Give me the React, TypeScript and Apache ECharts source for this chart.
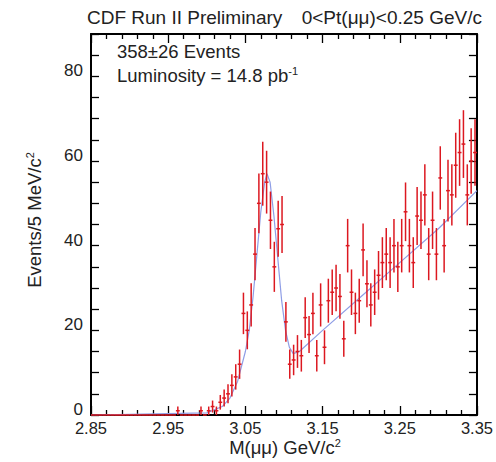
import React, { useEffect, useRef } from "react";
import * as echarts from "echarts";

const massMin = 2.85;
const massMax = 3.35;
const binWidth = 0.005;
const xTickStep = 0.1;
const yMax = 90;

// Events per 5 MeV/c^2 bin, from 2.85 to 3.35 GeV/c^2 (100 bins)
const counts = [
  0, 0, 0, 0, 0, 0, 0, 0, 0, 0,
  0, 0, 0, 0, 0, 0, 0, 0, 0, 0,
  0, 0, 1, 0, 0, 0, 0, 0, 1, 0,
  1, 2, 1, 3, 4, 5, 7, 9, 12, 24,
  20, 26, 38, 50, 57, 55, 46, 35, 44, 45,
  22, 12, 13, 15, 14, 23, 19, 24, 14, 26,
  16, 27, 29, 30, 28, 18, 40, 29, 24, 27,
  39, 31, 26, 29, 33, 36, 38, 36, 40, 35,
  40, 48, 40, 36, 47, 46, 52, 38, 46, 38,
  56, 40, 53, 52, 59, 62, 64, 52, 60, 62,
];

// Fit curve
const fitMass = [2.85, 3.0, 3.02, 3.03, 3.04, 3.05, 3.055, 3.06, 3.065, 3.07, 3.075, 3.078, 3.082, 3.087, 3.092, 3.097, 3.102, 3.107, 3.112, 3.12, 3.15, 3.2, 3.25, 3.3, 3.35];
const fitValue = [0, 0.5, 2, 4, 8, 15, 20, 28, 38, 48, 55, 57, 55, 47, 37, 27, 20, 16, 14.5, 15, 20, 28, 36, 44, 53];

const titleLeft = "CDF Run II Preliminary";
const titleRight = "0<Pt(μμ)<0.25 GeV/c";
const eventsText = "358±26 Events";

const FONT = "'Liberation Sans', Arial, Helvetica, sans-serif";

export default function App() {
  const ref = useRef<HTMLDivElement>(null);
  useEffect(() => {
    if (!ref.current) return;
    document.body.style.margin = "0";
    const chart = echarts.init(ref.current, null, { renderer: "svg" });
    const histData = counts.map((c, i) => [
      i * binWidth + binWidth / 2,
      c,
      Math.sqrt(c),
    ]);
    const fitData = fitMass.map((m, i) => [m - massMin, fitValue[i]]);

    const axisLineStyle = { color: "#000", width: 2 };
    const tickStyle = { color: "#000", width: 1.3 };

    const xAxisBase = {
      type: "value",
      min: 0,
      max: massMax - massMin,
      interval: xTickStep,
      axisLine: { show: true, onZero: false, lineStyle: axisLineStyle },
      axisTick: { show: true, inside: true, length: 9, lineStyle: tickStyle },
      minorTick: { show: true, splitNumber: 5, length: 5, lineStyle: tickStyle },
      splitLine: { show: false },
      minorSplitLine: { show: false },
    };
    const yAxisBase = {
      type: "value",
      min: 0,
      max: yMax,
      interval: 5,
      axisLine: { show: true, onZero: false, lineStyle: axisLineStyle },
      axisTick: { show: true, inside: true, length: 8, lineStyle: tickStyle },
      splitLine: { show: false },
    };

    const sup = { fontSize: 11, padding: [0, 0, 9, 0], fontFamily: FONT, fill: "#222" };

    chart.setOption({
      animation: false,
      grid: { left: 91, right: 19, top: 34, bottom: 47 },
      xAxis: [
        {
          ...xAxisBase,
          position: "bottom",
          axisLabel: {
            formatter: (v: number) => (v + massMin).toFixed(2),
            fontSize: 16.5,
            color: "#222",
            margin: 4,
            fontFamily: FONT,
          },
        },
        { ...xAxisBase, position: "top", axisLabel: { show: false } },
      ],
      yAxis: [
        {
          ...yAxisBase,
          position: "left",
          axisLabel: {
            formatter: (v: number) => (v % 20 === 0 && v < yMax ? String(v) : ""),
            fontSize: 17,
            color: "#222",
            margin: 8,
            fontFamily: FONT,
            verticalAlign: "bottom",
            padding: [0, 0, -3, 0],
          },
        },
        { ...yAxisBase, position: "right", axisLabel: { show: false } },
      ],
      series: [
        {
          type: "line",
          data: fitData,
          showSymbol: false,
          symbol: "none",
          lineStyle: { color: "#8f9ee6", width: 1.2 },
          z: 1,
        },
        {
          type: "custom",
          data: histData,
          encode: { x: 0, y: 1 },
          z: 2,
          renderItem: (_params: any, api: any) => {
            const x = api.value(0);
            const y = api.value(1);
            const e = api.value(2);
            const c = api.coord([x, y]);
            const l = api.coord([x - binWidth / 2, y]);
            const r = api.coord([x + binWidth / 2, y]);
            const style = { stroke: "#dc1820", lineWidth: 1.5 };
            const children: any[] = [
              { type: "line", shape: { x1: l[0], y1: c[1], x2: r[0], y2: c[1] }, style },
            ];
            if (e > 0) {
              const t = api.coord([x, y + e]);
              const b = api.coord([x, Math.max(0, y - e)]);
              children.push({
                type: "line",
                shape: { x1: c[0], y1: t[1], x2: c[0], y2: b[1] },
                style,
              });
            }
            return { type: "group", children };
          },
        },
      ],
      graphic: [
        {
          type: "text",
          left: 87,
          top: 8,
          style: { text: titleLeft, font: `19px ${FONT}`, fill: "#222" },
        },
        {
          type: "text",
          right: 14,
          top: 8,
          style: { text: titleRight, font: `19px ${FONT}`, fill: "#222" },
        },
        {
          type: "text",
          left: 117,
          top: 42,
          style: { text: eventsText, font: `18.5px ${FONT}`, fill: "#222" },
        },
        {
          type: "text",
          left: 117,
          top: 65,
          style: {
            text: "Luminosity = 14.8 pb{sup|-1}",
            font: `18.5px ${FONT}`,
            fill: "#222",
            rich: { sup },
          },
        },
        {
          type: "text",
          x: 34,
          y: 220,
          rotation: Math.PI / 2,
          style: {
            text: "Events/5 MeV/c{sup|2}",
            font: `18.5px ${FONT}`,
            fill: "#222",
            align: "center",
            verticalAlign: "middle",
            rich: { sup },
          },
        },
        {
          type: "text",
          x: 285,
          y: 447,
          style: {
            text: "M(μμ) GeV/c{sup|2}",
            font: `18.5px ${FONT}`,
            fill: "#222",
            align: "center",
            verticalAlign: "middle",
            rich: { sup },
          },
        },
      ],
    });
    return () => chart.dispose();
  }, []);
  return <div ref={ref} style={{ width: 496, height: 462 }} />;
}
